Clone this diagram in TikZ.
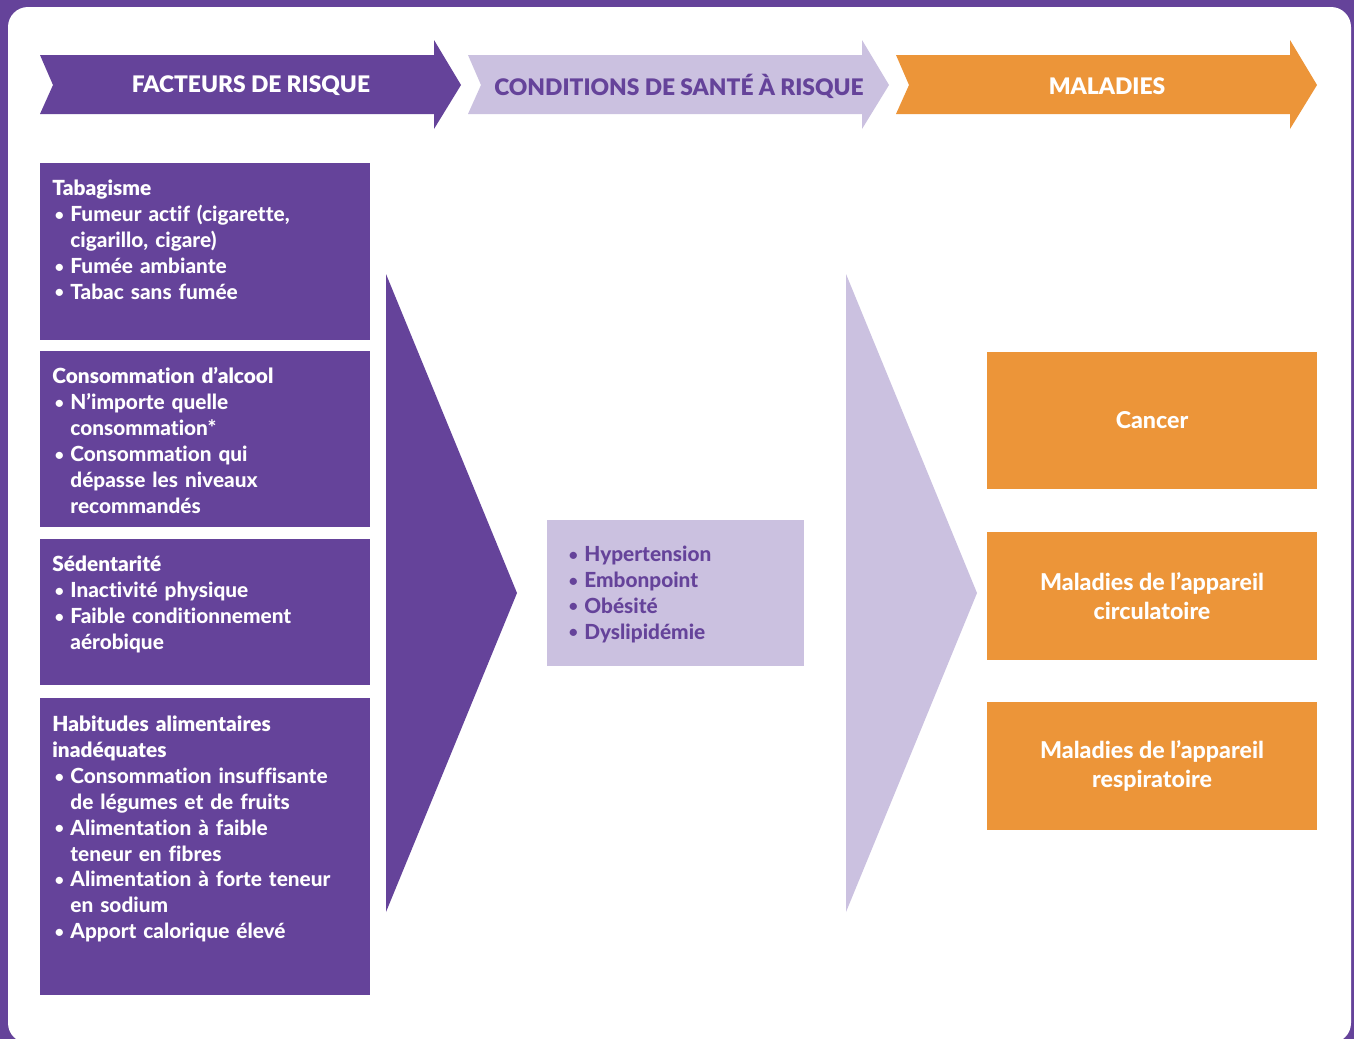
\documentclass[tikz,border=0pt]{standalone}
\usepackage{fontspec}
\setmainfont{Lato}[Ligatures=NoCommon, BoldFont={Lato Heavy}]
\newfontfamily\noir{Lato Black}[Ligatures=NoCommon]
\usetikzlibrary{positioning}

\definecolor{mauve}{HTML}{65439A}
\definecolor{lilas}{HTML}{CBC1E0}
\definecolor{orangeclair}{HTML}{EC9539}

% puce avec retrait suspendu
\newcommand{\puce}{\par\noindent\hangindent=9pt\hangafter=1\makebox[9pt][l]{\hspace{1.2pt}\raisebox{0.6pt}{\scalebox{0.75}{\textbullet}}}}
\newcommand{\titre}[1]{{\noir\mdseries #1}}

\begin{document}
\begin{tikzpicture}[
  x=0.5pt, y=-0.5pt,
  bandeau/.style={font=\noir\fontsize{11.4}{14}\selectfont, inner sep=0pt},
  boite/.style={anchor=north west, inner sep=0pt, minimum width=165pt},
  liste/.style={anchor=north west, inner sep=0pt, text width=160pt, text=white,
    font=\bfseries\fontsize{10.4}{12.95}\selectfont,
    execute at begin node={\setlength{\parindent}{0pt}}},
  maladie/.style={fill=orangeclair, inner sep=0pt, minimum width=165pt, text=white,
    align=center, font=\bfseries\fontsize{11.6}{14.5}\selectfont},
]

% cadre
\useasboundingbox (0,0) rectangle (1354,1039);
\fill[mauve] (0,0) rectangle (1354,1039);
\fill[white, rounded corners=10pt] (8,7) rectangle (1351,1043);

% bandeaux du haut
\foreach \L/\fond/\encre/\texte/\nom in {
    40/mauve/white/FACTEURS DE RISQUE/fr,
    468/lilas/mauve/CONDITIONS DE SANTÉ À RISQUE/cs,
    896/orangeclair/white/MALADIES/ma}{
  \fill[\fond] (\L,55) -- (\L+394,55) -- (\L+394,40) -- (\L+421,85)
    -- (\L+394,129) -- (\L+394,114) -- (\L,114) -- (\L+13,85) -- cycle;
  \node[bandeau, text=\encre] (\nom) at (\L+211,86) {\texte};
}

% facteurs de risque
\node[boite, fill=mauve, minimum height=88.5pt] (tabac) at (40,163) {};
\node[liste, below right=7pt and 6pt of tabac.north west] (tabac-txt)
  {\strut\titre{Tabagisme}
   \puce Fumeur actif (cigarette,\newline cigarillo, cigare)
   \puce Fumée ambiante
   \puce Tabac sans fumée\par};

\node[boite, fill=mauve, minimum height=88pt] (alcool) at (40,351) {};
\node[liste, below right=7pt and 6pt of alcool.north west] (alcool-txt)
  {\strut\titre{Consommation d’alcool}
   \puce N’importe quelle\newline consommation*
   \puce Consommation qui\newline dépasse les niveaux\newline recommandés\par};

\node[boite, fill=mauve, minimum height=73pt] (sedent) at (40,539) {};
\node[liste, below right=7pt and 6pt of sedent.north west] (sedent-txt)
  {\strut\titre{Sédentarité}
   \puce Inactivité physique
   \puce Faible conditionnement\newline aérobique\par};

\node[boite, fill=mauve, minimum height=148.5pt] (alim) at (40,698) {};
\node[liste, below right=7.5pt and 6pt of alim.north west] (alim-txt)
  {\strut\titre{Habitudes alimentaires\newline inadéquates}
   \puce Consommation insuffisante\newline de légumes et de fruits
   \puce Alimentation à faible\newline teneur en fibres
   \puce Alimentation à forte teneur\newline en sodium
   \puce Apport calorique élevé\par};

% grandes fleches
\fill[mauve] (386,274) -- (517,593) -- (386,912) -- cycle;
\fill[lilas] (846,274) -- (977,593) -- (846,912) -- cycle;

% conditions de sante
\node[boite, fill=lilas, minimum width=128.5pt, minimum height=73pt] (cond) at (547,520) {};
\node[liste, text=mauve, text width=115pt, below right=7.5pt and 9.5pt of cond.north west] (cond-txt)
  {\puce\strut Hypertension
   \puce Embonpoint
   \puce Obésité
   \puce Dyslipidémie\par};

% maladies
\node[maladie, minimum height=68.5pt] (cancer) at (1152,420.5) {Cancer};
\node[maladie, minimum height=64pt] (circ) at (1152,596) {Maladies de l’appareil\\circulatoire};
\node[maladie, minimum height=64pt] (resp) at (1152,766) {Maladies de l’appareil\\respiratoire};

\end{tikzpicture}
\end{document}
